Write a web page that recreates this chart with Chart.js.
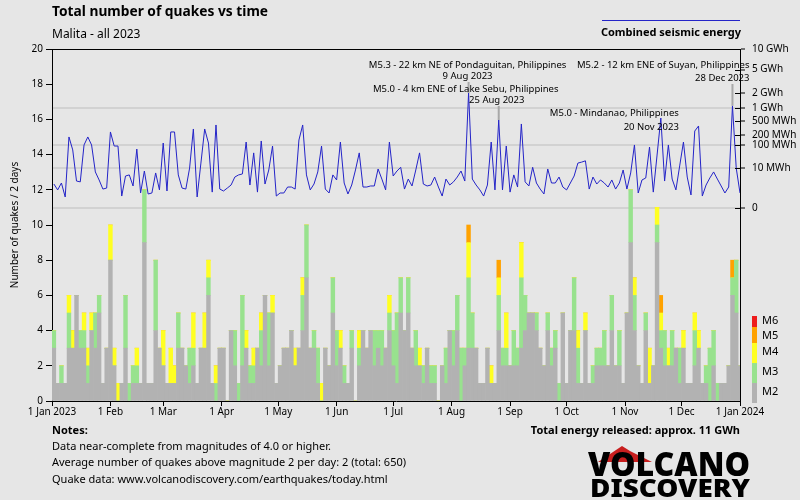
<!DOCTYPE html>
<html>
<head>
<meta charset="utf-8">
<script src="https://cdn.jsdelivr.net/npm/chart.js@4"></script>
<style>
  html, body { margin: 0; background: #e6e6e6; }
  #quake-chart { display: block; }
</style>
</head>
<body>
<canvas id="quake-chart" width="800" height="500"></canvas>
<script>
// x axis: day offsets of month starts in 2023
const monthDays = [0, 31, 59, 90, 120, 151, 181, 212, 243, 273, 304, 334, 365];
const monthLabels = ['1 Jan 2023', '1 Feb', '1 Mar', '1 Apr', '1 May', '1 Jun', '1 Jul',
  '1 Aug', '1 Sep', '1 Oct', '1 Nov', '1 Dec', '1 Jan 2024'];

// quakes per 2-day period, by magnitude class
const m2 = [
  3,1,1,1,3,3,6,3,3,1, 4,3,5,1,3,8,2,0,1,3, 0,1,1,1,9,1,1,4,3,2, 1,1,1,3,3,2,1,2,1,3,
  3,6,1,0,3,3,0,4,2,0, 2,3,1,1,3,2,6,2,5,1, 2,3,3,4,2,3,4,7,3,3, 1,0,3,2,5,2,3,1,1,3,
  0,2,4,3,4,2,3,2,3,4, 2,1,5,4,5,3,2,2,1,3, 1,1,0,2,1,4,2,4,0,2, 3,3,3,1,1,3,1,1,4,2,
  2,2,2,2,3,4,5,5,4,3, 2,4,2,3,0,5,1,4,4,1, 1,4,1,1,2,2,2,2,4,2, 2,1,5,9,4,2,1,4,1,2,
  9,3,2,2,2,3,1,3,1,1, 2,3,1,1,0,2,0,1,1,2, 6,5,2
];
const m3 = [
  1,0,1,0,2,0,0,1,1,1, 0,2,1,0,0,0,0,0,0,3, 1,1,1,0,3,0,0,4,0,0, 0,0,0,2,0,0,2,1,0,0,
  0,1,0,1,0,0,0,0,2,1, 4,0,1,1,0,2,0,3,0,0, 0,0,0,0,0,0,2,3,0,1, 2,0,0,0,2,2,0,1,0,1,
  0,1,0,0,0,2,1,2,0,1, 2,4,2,0,2,0,2,0,1,0, 1,1,0,0,2,0,2,2,3,1, 4,2,0,0,0,0,0,0,2,1,
  1,0,2,1,4,2,0,0,1,0, 0,1,1,1,1,0,0,0,3,2, 0,0,0,1,1,1,2,0,2,0, 2,0,0,3,2,0,0,1,0,0,
  1,1,2,0,2,0,2,0,0,0, 2,0,0,1,3,2,1,0,0,0, 1,3,0
];
const m4 = [
  0,0,0,0,1,1,0,0,1,1, 1,0,0,0,0,2,1,1,0,0, 0,0,1,0,0,0,0,0,0,2, 0,2,1,0,0,0,0,2,0,0,
  2,1,0,1,0,0,0,0,0,0, 0,1,0,1,0,1,0,0,1,0, 0,0,0,0,1,0,1,0,0,0, 0,1,0,0,0,0,1,0,0,0,
  0,1,0,0,0,0,0,0,0,1, 0,0,0,0,0,0,0,1,0,0, 0,0,0,0,0,0,0,0,0,0, 2,0,0,0,0,0,1,0,1,0,
  2,0,0,0,2,0,0,0,0,0, 0,0,0,0,0,0,0,0,0,1, 0,1,0,0,0,0,0,0,0,0, 0,0,0,0,1,0,0,0,2,0,
  1,1,0,1,0,0,0,1,0,0, 1,1,0,0,0,0,0,0,0,0, 0,0,0
];
const m5 = [
  0,0,0,0,0,0,0,0,0,0, 0,0,0,0,0,0,0,0,0,0, 0,0,0,0,0,0,0,0,0,0, 0,0,0,0,0,0,0,0,0,0,
  0,0,0,0,0,0,0,0,0,0, 0,0,0,0,0,0,0,0,0,0, 0,0,0,0,0,0,0,0,0,0, 0,0,0,0,0,0,0,0,0,0,
  0,0,0,0,0,0,0,0,0,0, 0,0,0,0,0,0,0,0,0,0, 0,0,0,0,0,0,0,0,0,0, 1,0,0,0,0,0,0,0,1,0,
  0,0,0,0,0,0,0,0,0,0, 0,0,0,0,0,0,0,0,0,0, 0,0,0,0,0,0,0,0,0,0, 0,0,0,0,0,0,0,0,0,0,
  0,1,0,0,0,0,0,0,0,0, 0,0,0,0,0,0,0,0,0,0, 1,0,0
];

// combined seismic energy per 2-day period (MWh)
const energyMWh = [
  0.78,0.19,0.96,0.016,178,65,1.4,1.2,98,178, 98,6.0,1.7,0.24,0.31,250,90,90,0.024,3.3,
  3.9,0.51,70,0.075,6.8,0.053,0.075,5.2,0.19,114, 0.14,250,250,3.9,0.31,0.24,10,303,0.016,18,
  303,114,0.10,388,0.24,0.14,0.31,0.63,2.8,3.9, 4.5,123,0.63,50,0.10,133,0.78,7.8,90,0.024,
  0.075,0.075,0.40,0.40,0.24,143,388,3.9,0.19,0.78, 6.0,90,0.24,0.075,3.9,1.7,123,0.96,0.053,0.63,
  7.8,50,0.40,0.40,0.51,0.51,8.9,2.0,0.19,123, 3.3,6.8,11,0.24,2.0,0.51,7.8,50,0.78,0.51,
  0.63,2.8,0.40,0.024,2.0,0.63,1.2,2.8,6.8,1.4, 1980,2.0,0.63,0.19,0.024,0.63,123,0.19,520,0.19,
  90,0.10,3.9,0.40,412,1.2,0.51,11,0.96,0.24, 0.053,8.9,0.96,0.96,2.8,0.40,0.19,0.96,3.3,18,
  20,23,0.24,2.8,0.78,1.7,0.96,0.40,1.7,0.24, 0.96,7.8,0.24,5.2,98,0.075,1.7,2.4,83,0.10,
  41,581,1.4,98,2.0,0.19,13,123,2.8,0.037, 266,365,0.024,0.63,2.4,6.0,2.0,0.51,0.075,0.40,
  1100,10,0.075
];

// right axis (energy) ticks
const energyTicks = [0, 10, 100, 200, 500, 1000, 2000, 5000, 10000];
const energyTickLabels = ['0', '10 MWh', '100 MWh', '200 MWh', '500 MWh', '1 GWh', '2 GWh', '5 GWh', '10 GWh'];
const energyGrid = [0, 10, 100, 1000];

const magNames = ['M6', 'M5', 'M4', 'M3', 'M2'];
const magColors = ['#ee1c1c', '#ffa200', '#ffff22', '#98e28e', '#b2b2b2'];

const quakeNotes = [
  { period: 110, title: 'M5.3 - 22 km NE of Pondaguitan, Philippines', date: '9 Aug 2023' },
  { period: 118, title: 'M5.0 - 4 km ENE of Lake Sebu, Philippines', date: '25 Aug 2023' },
  { period: 161, title: 'M5.0 - Mindanao, Philippines', date: '20 Nov 2023' },
  { period: 180, title: 'M5.2 - 12 km ENE of Suyan, Philippines', date: '28 Dec 2023' }
];
// text placement of the notes, relative to the event
const noteLayout = [
  { align: 'center', dx: -1, dateDx: -1, y: 65, dateY: 76, pointer: true },
  { align: 'center', dx: -33, dateDx: -2, y: 89, dateY: 100, pointer: true },
  { align: 'right', dx: 18, dateDx: 18, y: 113, dateY: 127, pointer: false },
  { align: 'right', dx: 17, dateDx: 17, y: 65, dateY: 78, pointer: true }
];

const FONT = "'Noto Sans', sans-serif";
Chart.defaults.font.family = FONT;
Chart.defaults.color = '#000';

// energy axis is drawn on a fifth-root scale
const root = e => Math.pow(e, 0.2);
const eMax = root(10000);
const eMin = -7.659;

const periodX = m2.map((_, i) => 2 * i + 1);

function barSet(label, values, color) {
  return {
    type: 'bar',
    label,
    data: values.map((v, i) => ({ x: periodX[i], y: v })),
    backgroundColor: color,
    borderWidth: 0,
    barPercentage: 1,
    categoryPercentage: 1,
    yAxisID: 'y',
    order: 2,
    clip: 0
  };
}

// draw text stretched to a given width
function fitText(ctx, text, x, y, width) {
  const w = ctx.measureText(text).width;
  ctx.save();
  ctx.translate(x, y);
  ctx.scale(width / w, 1);
  ctx.fillText(text, 0, 0);
  ctx.restore();
}

const decorations = {
  id: 'decorations',
  beforeDraw(chart) {
    const ctx = chart.ctx;
    ctx.save();
    ctx.fillStyle = '#e6e6e6';
    ctx.fillRect(0, 0, chart.width, chart.height);
    ctx.restore();
  },
  afterDatasetsDraw(chart) {
    const { ctx } = chart;
    const xs = chart.scales.x, ys = chart.scales.y2;
    ctx.save();
    ctx.strokeStyle = '#a8a8a8';
    ctx.lineWidth = 2;
    quakeNotes.forEach((n, k) => {
      const l = noteLayout[k];
      if (!l.pointer) return;
      const px = xs.getPixelForValue(periodX[n.period]);
      const py = ys.getPixelForValue(root(energyMWh[n.period]));
      ctx.beginPath();
      ctx.moveTo(px, l.dateY + 6);
      ctx.lineTo(px, py);
      ctx.stroke();
    });
    ctx.restore();
  },
  afterDraw(chart) {
    const { ctx, chartArea: a } = chart;
    const xs = chart.scales.x, ys = chart.scales.y2;
    ctx.save();
    // top frame line
    ctx.strokeStyle = '#000';
    ctx.lineWidth = 1;
    ctx.beginPath();
    ctx.moveTo(a.left, a.top + 0.5);
    ctx.lineTo(a.right, a.top + 0.5);
    ctx.stroke();
    // inner part of the energy ticks
    energyTicks.forEach(e => {
      const y = Math.round(ys.getPixelForValue(root(e))) + 0.5;
      ctx.beginPath();
      ctx.moveTo(a.right - 5, y);
      ctx.lineTo(a.right, y);
      ctx.stroke();
    });

    ctx.fillStyle = '#000';
    ctx.textBaseline = 'middle';
    ctx.textAlign = 'left';
    ctx.font = `bold 14px ${FONT}`;
    ctx.fillText('Total number of quakes vs time', 52, 12, 216);
    ctx.font = `12px ${FONT}`;
    ctx.fillText('Malita - all 2023', 52, 35);

    // energy legend
    ctx.strokeStyle = '#2424c8';
    ctx.beginPath();
    ctx.moveTo(602, 20.5);
    ctx.lineTo(740, 20.5);
    ctx.stroke();
    ctx.textAlign = 'center';
    ctx.font = `bold 11px ${FONT}`;
    ctx.fillText('Combined seismic energy', 671, 33);

    // event notes
    ctx.font = `9.5px ${FONT}`;
    quakeNotes.forEach((n, k) => {
      const l = noteLayout[k];
      const px = xs.getPixelForValue(periodX[n.period]);
      ctx.textAlign = l.align;
      ctx.fillText(n.title, px + l.dx, l.y);
      ctx.fillText(n.date, px + l.dateDx, l.dateY);
    });

    // magnitude legend
    const bands = [316, 327, 343, 363, 383, 403];
    const labelY = [321, 336, 352, 372, 392];
    ctx.textAlign = 'left';
    ctx.font = `11px ${FONT}`;
    magNames.forEach((m, k) => {
      ctx.fillStyle = magColors[k];
      ctx.fillRect(752, bands[k], 5, bands[k + 1] - bands[k]);
      ctx.fillStyle = '#000';
      ctx.fillText(m, 762, labelY[k]);
    });

    // notes at the bottom
    ctx.font = `bold 11px ${FONT}`;
    ctx.fillText('Notes:', 52, 431);
    ctx.font = `11px ${FONT}`;
    ctx.fillText('Data near-complete from magnitudes of 4.0 or higher.', 52, 447);
    ctx.fillText('Average number of quakes above magnitude 2 per day: 2 (total: 650)', 52, 463);
    ctx.fillText('Quake data: www.volcanodiscovery.com/earthquakes/today.html', 52, 480);
    ctx.textAlign = 'right';
    ctx.font = `bold 11px ${FONT}`;
    ctx.fillText('Total energy released: approx. 11 GWh', 740, 431);

    // logo
    ctx.fillStyle = '#c81e1e';
    ctx.beginPath();
    ctx.moveTo(598, 462);
    ctx.lineTo(622, 446);
    ctx.lineTo(630, 451);
    ctx.lineTo(652, 462);
    ctx.closePath();
    ctx.fill();
    ctx.fillStyle = '#000';
    ctx.textAlign = 'left';
    ctx.textBaseline = 'alphabetic';
    ctx.font = `900 33px ${FONT}`;
    fitText(ctx, 'VOLCANO', 588, 476, 162);
    ctx.font = `900 24px ${FONT}`;
    fitText(ctx, 'DISCOVERY', 590, 497, 160);
    ctx.restore();
  }
};

new Chart(document.getElementById('quake-chart'), {
  data: {
    datasets: [
      barSet('M2', m2, magColors[4]),
      barSet('M3', m3, magColors[3]),
      barSet('M4', m4, magColors[2]),
      barSet('M5', m5, magColors[1]),
      {
        type: 'line',
        label: 'Combined seismic energy',
        data: energyMWh.map((e, i) => ({ x: periodX[i], y: root(e) })),
        borderColor: '#2424c8',
        borderWidth: 1,
        pointRadius: 0,
        tension: 0,
        yAxisID: 'y2',
        order: 1
      }
    ]
  },
  options: {
    responsive: false,
    animation: false,
    devicePixelRatio: 1,
    layout: { padding: { top: 49, left: 0, right: 0, bottom: 0 } },
    plugins: {
      legend: { display: false },
      tooltip: { enabled: false }
    },
    scales: {
      x: {
        type: 'linear',
        min: 0,
        max: 365,
        offset: false,
        stacked: true,
        afterBuildTicks: s => { s.ticks = monthDays.map(v => ({ value: v })); },
        afterFit: s => { s.height = 99; },
        ticks: {
          autoSkip: false,
          maxRotation: 0,
          padding: 0,
          font: { size: 10 },
          callback: (v, i) => monthLabels[i]
        },
        grid: { drawOnChartArea: false, offset: false, tickLength: 5, tickColor: '#000' },
        border: { color: '#000' }
      },
      y: {
        type: 'linear',
        position: 'left',
        min: 0,
        max: 20,
        stacked: true,
        afterFit: s => { s.width = 52; },
        ticks: { stepSize: 2, padding: 3, font: { size: 10 } },
        grid: { drawOnChartArea: false, tickLength: 6, tickColor: '#000' },
        border: { color: '#000' },
        title: {
          display: true,
          text: 'Number of quakes / 2 days',
          font: { size: 10 },
          padding: { top: 9, bottom: 0 }
        }
      },
      y2: {
        type: 'linear',
        position: 'right',
        min: eMin,
        max: eMax,
        afterBuildTicks: s => { s.ticks = energyTicks.map(e => ({ value: root(e) })); },
        afterFit: s => { s.width = 60; },
        ticks: {
          padding: 7,
          font: { size: 10 },
          callback: (v, i) => energyTickLabels[i]
        },
        grid: {
          color: c => energyGrid.includes(energyTicks[c.index]) ? '#d2d2d2' : 'rgba(0,0,0,0)',
          lineWidth: 2,
          tickColor: '#000',
          tickWidth: 1,
          tickLength: 5
        },
        border: { color: '#000' }
      }
    }
  },
  plugins: [decorations]
});
</script>
</body>
</html>
